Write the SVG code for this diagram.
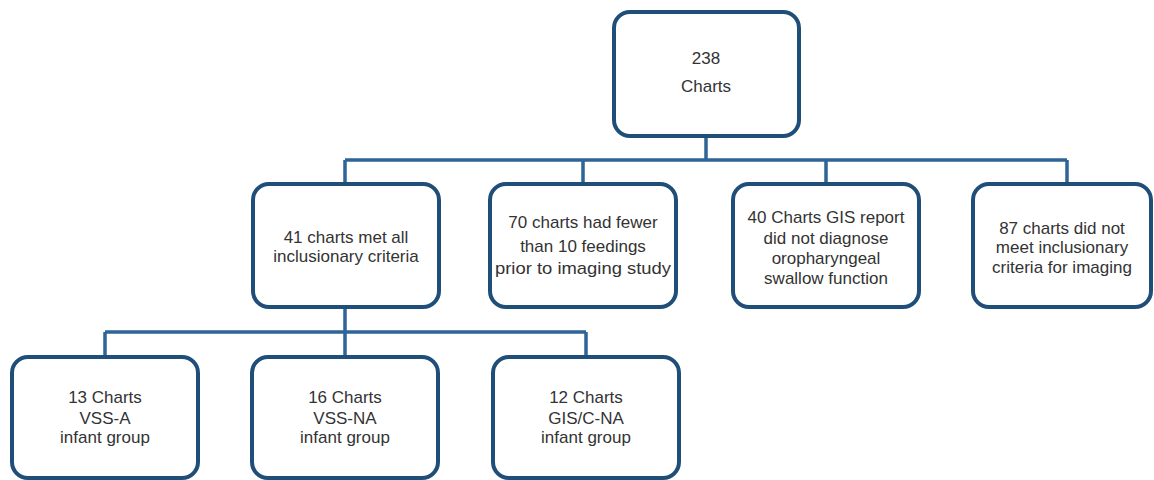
<svg xmlns="http://www.w3.org/2000/svg" width="1154" height="480" viewBox="0 0 1154 480">
<style>
.box{fill:#fff;stroke:#1f4e79;stroke-width:4}
.conn{fill:none;stroke:#2f6496;stroke-width:3.5}
text{font-family:"Liberation Sans",Arial,sans-serif;font-size:17px;fill:#333;text-anchor:middle}
</style>
<rect width="1154" height="480" fill="#fff"/>
<g id="connectors">
<path class="conn" d="M706 136V160M345 160H1067M345 160V184M583 160V184M826 160V184M1067 160V184"/>
<path class="conn" d="M345 307V332M105 332H586M105 332V357M345 332V357M586 332V357"/>
</g>
<g id="n238"><rect class="box" x="614" y="12" width="185" height="124" rx="16"/><text x="706" y="64">238</text><text x="706" y="92">Charts</text></g>
<g id="n41"><rect class="box" x="253" y="184" width="186" height="123" rx="16"/><text x="346" y="243">41 charts met all</text><text x="346" y="262">inclusionary criteria</text></g>
<g id="n70"><rect class="box" x="490" y="184" width="186" height="123" rx="16"/><text x="583" y="228">70 charts had fewer</text><text x="583" y="252">than 10 feedings</text><text x="583" y="274" textLength="176" lengthAdjust="spacingAndGlyphs">prior to imaging study</text></g>
<g id="n40"><rect class="box" x="733" y="184" width="186" height="123" rx="16"/><text x="826" y="223">40 Charts GIS report</text><text x="826" y="244">did not diagnose</text><text x="826" y="264">oropharyngeal</text><text x="826" y="284">swallow function</text></g>
<g id="n87"><rect class="box" x="973" y="184" width="178" height="123" rx="16"/><text x="1062" y="234">87 charts did not</text><text x="1062" y="253">meet inclusionary</text><text x="1062" y="273">criteria for imaging</text></g>
<g id="n13"><rect class="box" x="12" y="357" width="186" height="121" rx="16"/><text x="105" y="403">13 Charts</text><text x="105" y="424">VSS-A</text><text x="105" y="443">infant group</text></g>
<g id="n16"><rect class="box" x="252" y="357" width="186" height="121" rx="16"/><text x="345" y="403">16 Charts</text><text x="345" y="424">VSS-NA</text><text x="345" y="443">infant group</text></g>
<g id="n12"><rect class="box" x="493" y="357" width="186" height="121" rx="16"/><text x="586" y="403">12 Charts</text><text x="586" y="424">GIS/C-NA</text><text x="586" y="443">infant group</text></g>
</svg>
